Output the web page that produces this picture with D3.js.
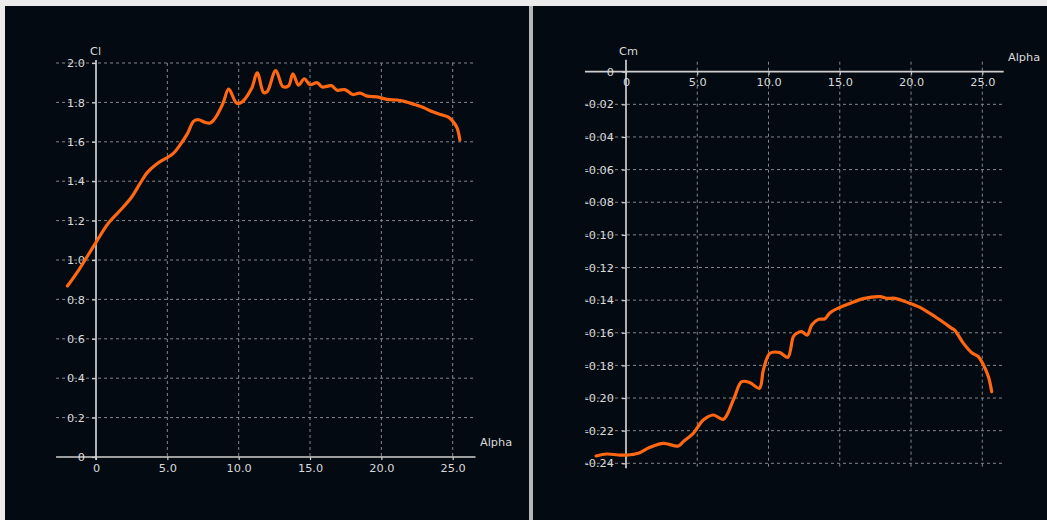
<!DOCTYPE html>
<html>
<head>
<meta charset="utf-8">
<script src="https://cdn.jsdelivr.net/npm/d3@7"></script>
<style>
  html, body { margin: 0; padding: 0; background: #e9e9e9; }
  svg { display: block; }
  text { font-family: "DejaVu Sans", sans-serif; }
</style>
</head>
<body>
<svg id="chart" width="1047" height="520"></svg>
<script>
// Lift coefficient polar: angle of attack (deg) and Cl
const alphaCl = [-2.0, -1.2, 0.0, 0.9, 1.8, 2.5, 3.1, 3.6, 4.3, 5.4, 5.9, 6.4, 6.85, 7.2, 7.6, 8.0,
  8.35, 8.9, 9.3, 9.85, 10.2, 10.9, 11.3, 11.75, 12.0, 12.6, 13.1, 13.5, 13.8, 14.2, 14.6,
  15.0, 15.5, 15.85, 16.5, 16.9, 17.45, 18.0, 18.5, 19.0, 19.7, 20.4, 21.1, 21.6, 22.3,
  22.9, 23.6, 24.2, 24.7, 25.0, 25.3, 25.5];
const clValues = [0.868, 0.95, 1.09, 1.19, 1.26, 1.32, 1.39, 1.445, 1.49, 1.54, 1.585, 1.64, 1.705,
  1.712, 1.70, 1.695, 1.72, 1.795, 1.868, 1.797, 1.80, 1.87, 1.95, 1.85, 1.855, 1.962, 1.88,
  1.885, 1.945, 1.888, 1.92, 1.89, 1.90, 1.878, 1.885, 1.862, 1.865, 1.84, 1.847, 1.832,
  1.828, 1.815, 1.812, 1.805, 1.79, 1.775, 1.752, 1.737, 1.725, 1.705, 1.672, 1.61];

// Pitching moment polar: angle of attack (deg) and Cm
const alphaCm = [-2.1, -1.35, -0.54, 0.05, 0.86, 1.68, 2.62, 3.67, 4.02, 4.72, 5.42, 6.13, 6.83,
  7.53, 8.12, 8.7, 9.36, 9.64, 10.1, 10.8, 11.35, 11.74, 11.98, 12.33, 12.73, 13.03, 13.5,
  13.96, 14.32, 15.02, 15.72, 16.65, 17.82, 18.3, 18.88, 19.93, 20.51, 21.33, 22.04, 22.86,
  23.09, 23.68, 24.26, 24.73, 25.08, 25.43, 25.66];
const cmValues = [-0.2355, -0.2343, -0.2349, -0.235, -0.2339, -0.2302, -0.2278, -0.2294, -0.2267,
  -0.2216, -0.2135, -0.2104, -0.213, -0.2012, -0.19, -0.1906, -0.194, -0.1828, -0.1726,
  -0.1722, -0.175, -0.1624, -0.1603, -0.1593, -0.1614, -0.1552, -0.1518, -0.1514, -0.1477,
  -0.1444, -0.142, -0.1391, -0.1379, -0.1389, -0.1389, -0.142, -0.144, -0.1481, -0.1522,
  -0.1573, -0.1587, -0.1665, -0.1722, -0.1747, -0.1797, -0.1869, -0.1961];

// Tick values
const alphaTicks = [0, 5, 10, 15, 20, 25];
const clTicks = [0, 0.2, 0.4, 0.6, 0.8, 1.0, 1.2, 1.4, 1.6, 1.8, 2.0];
const cmTicks = [0, -0.02, -0.04, -0.06, -0.08, -0.10, -0.12, -0.14, -0.16, -0.18, -0.20, -0.22, -0.24];

const svg = d3.select("#chart");
const PANEL = "#040a12";
const AXIS = "#cfcfcf";
const GRID = "#85888d";
const LABEL = "#dadada";
const CURVE = "#ff6712";
const FONT_SIZE = 11.3;

// Frame: light border strip, two dark panels and a divider
svg.append("rect").attr("width", 1047).attr("height", 520).attr("fill", "#ececec");
svg.append("rect").attr("x", 5).attr("y", 6).attr("width", 524).attr("height", 514).attr("fill", PANEL);
svg.append("rect").attr("x", 533).attr("y", 6).attr("width", 514).attr("height", 514).attr("fill", PANEL);
svg.append("rect").attr("x", 529).attr("y", 6).attr("width", 4).attr("height", 514).attr("fill", "#b4b6b8");

const fmtAlpha = v => v === 0 ? "0" : v.toFixed(1);
const fmtCl = v => v === 0 ? "0" : v.toFixed(1);
const fmtCm = v => v === 0 ? "0" : v.toFixed(2);

function styleAxis(g) {
  g.select(".domain").remove();
  g.selectAll(".tick line").attr("stroke", AXIS).attr("stroke-width", 1.2);
  g.selectAll(".tick text").attr("fill", LABEL).attr("font-size", FONT_SIZE)
    .attr("font-family", "DejaVu Sans, sans-serif");
}

// ---------- Left panel: Cl vs Alpha ----------
{
  const x = d3.scaleLinear().domain([0, 25]).range([96, 452.7]);
  const y = d3.scaleLinear().domain([0, 2]).range([457, 63]);
  const xMin = -2.8, xMax = 26.6;
  const g = svg.append("g");

  // grid
  g.append("g").selectAll("line").data(clTicks.filter(d => d !== 0)).join("line")
    .attr("x1", x(xMin)).attr("x2", x(xMax))
    .attr("y1", d => y(d)).attr("y2", d => y(d))
    .attr("stroke", GRID).attr("stroke-width", 1).attr("stroke-dasharray", "3,3");
  g.append("g").selectAll("line").data(alphaTicks.filter(d => d !== 0)).join("line")
    .attr("x1", d => x(d)).attr("x2", d => x(d))
    .attr("y1", y(2)).attr("y2", y(0))
    .attr("stroke", GRID).attr("stroke-width", 1).attr("stroke-dasharray", "3,3");

  // axes lines
  g.append("line").attr("x1", x(xMin)).attr("x2", x(xMax)).attr("y1", y(0)).attr("y2", y(0))
    .attr("stroke", AXIS).attr("stroke-width", 1.7);
  g.append("line").attr("x1", x(0)).attr("x2", x(0)).attr("y1", y(2) - 3).attr("y2", y(0) + 3)
    .attr("stroke", AXIS).attr("stroke-width", 1.7);

  // ticks and labels
  g.append("g").attr("transform", `translate(0,${y(0)})`)
    .call(d3.axisBottom(x).tickValues(alphaTicks).tickFormat(fmtAlpha).tickSize(3).tickPadding(4))
    .call(styleAxis);
  g.append("g").attr("transform", `translate(${x(0)},0)`)
    .call(d3.axisLeft(y).tickValues(clTicks).tickFormat(fmtCl).tickSize(4).tickPadding(7))
    .call(styleAxis);

  g.append("text").attr("x", 90).attr("y", 55).attr("fill", LABEL).attr("font-size", FONT_SIZE).text("Cl");
  g.append("text").attr("x", 480).attr("y", 446).attr("fill", LABEL).attr("font-size", FONT_SIZE).text("Alpha");

  const line = d3.line().x((d, i) => x(alphaCl[i])).y(d => y(d)).curve(d3.curveCatmullRom.alpha(0.5));
  g.append("path").datum(clValues).attr("d", line)
    .attr("fill", "none").attr("stroke", CURVE).attr("stroke-width", 3.2)
    .attr("stroke-linejoin", "round").attr("stroke-linecap", "round");
}

// ---------- Right panel: Cm vs Alpha ----------
{
  const x = d3.scaleLinear().domain([0, 25]).range([626, 982.3]);
  const y = d3.scaleLinear().domain([0, -0.24]).range([71.7, 463.3]);
  const xMin = -2.88, xMax = 26.5;
  const g = svg.append("g");

  g.append("g").selectAll("line").data(cmTicks.filter(d => d !== 0)).join("line")
    .attr("x1", x(xMin)).attr("x2", x(xMax))
    .attr("y1", d => y(d)).attr("y2", d => y(d))
    .attr("stroke", GRID).attr("stroke-width", 1).attr("stroke-dasharray", "3,3");
  g.append("g").selectAll("line").data(alphaTicks.filter(d => d !== 0)).join("line")
    .attr("x1", d => x(d)).attr("x2", d => x(d))
    .attr("y1", y(0) - 10).attr("y2", y(-0.24) + 5)
    .attr("stroke", GRID).attr("stroke-width", 1).attr("stroke-dasharray", "3,3");

  g.append("line").attr("x1", x(xMin)).attr("x2", x(xMax)).attr("y1", y(0)).attr("y2", y(0))
    .attr("stroke", AXIS).attr("stroke-width", 1.7);
  g.append("line").attr("x1", x(0)).attr("x2", x(0)).attr("y1", y(0) - 12).attr("y2", y(-0.24) + 5)
    .attr("stroke", AXIS).attr("stroke-width", 1.7);

  g.append("g").attr("transform", `translate(0,${y(0)})`)
    .call(d3.axisBottom(x).tickValues(alphaTicks).tickFormat(fmtAlpha).tickSize(3).tickPadding(3))
    .call(styleAxis);
  g.append("g").attr("transform", `translate(${x(0)},0)`)
    .call(d3.axisLeft(y).tickValues(cmTicks).tickFormat(fmtCm).tickSize(4).tickPadding(8))
    .call(styleAxis);

  g.append("text").attr("x", 619).attr("y", 55).attr("fill", LABEL).attr("font-size", FONT_SIZE).text("Cm");
  g.append("text").attr("x", 1008).attr("y", 61).attr("fill", LABEL).attr("font-size", FONT_SIZE).text("Alpha");

  const line = d3.line().x((d, i) => x(alphaCm[i])).y(d => y(d)).curve(d3.curveCatmullRom.alpha(0.5));
  g.append("path").datum(cmValues).attr("d", line)
    .attr("fill", "none").attr("stroke", CURVE).attr("stroke-width", 3.2)
    .attr("stroke-linejoin", "round").attr("stroke-linecap", "round");
}
</script>
</body>
</html>
